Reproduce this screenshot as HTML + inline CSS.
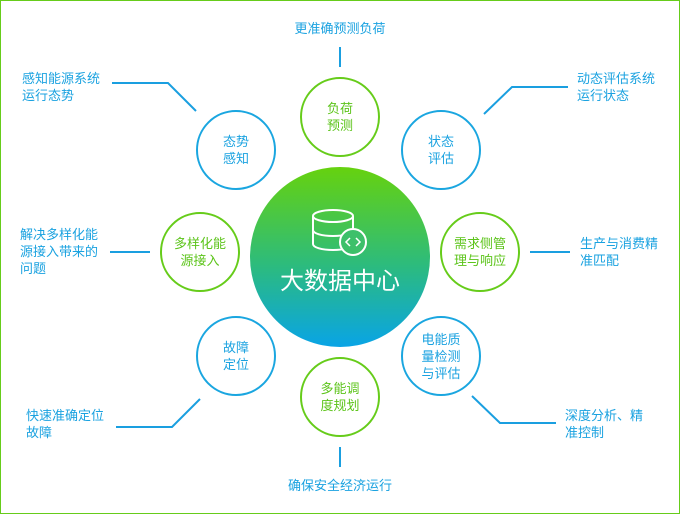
<!DOCTYPE html>
<html><head><meta charset="utf-8"><style>
body{margin:0;background:#fff}
svg{display:block}
text{font-family:"Liberation Sans","Noto Sans CJK SC",sans-serif;font-size:13px}
.b{fill:#1aa2e0}.g{fill:#5cc41a}
</style></head><body>
<svg width="680" height="514" viewBox="0 0 680 514">
<defs><linearGradient id="gr" x1="0" y1="0" x2="0" y2="1">
<stop offset="0" stop-color="#66d20e"/><stop offset="0.55" stop-color="#2cbb7e"/><stop offset="1" stop-color="#09a4e6"/></linearGradient></defs>
<rect x="0.5" y="0.5" width="679" height="513" fill="none" stroke="#66cc1a"/>
<g fill="none" stroke="#1a9fe0" stroke-width="2">
<path d="M340 47V67"/><path d="M340 447V467"/>
<path d="M112 83H168L196 111"/><path d="M484 114L512 87H568"/>
<path d="M530 252H570"/><path d="M110 252H150"/>
<path d="M116 427H172L200 399"/><path d="M472 396L500 423H556"/>
</g>
<circle cx="340" cy="257" r="90" fill="url(#gr)"/>
<g fill="none" stroke="#fff" stroke-width="2">
<ellipse cx="333" cy="216" rx="20" ry="6"/>
<path d="M313 216V244c0 3.5 9 6 20 6s20-2.5 20-6V216"/>
<path d="M313 230c0 3.5 9 6 20 6s20-2.5 20-6"/>
<circle cx="353" cy="242" r="13" fill="#3dc06a"/>
<path d="M350 238l-4 4 4 4M356 238l4 4-4 4" stroke-width="1.5"/>
</g>
<text x="340" y="289" fill="#fff" text-anchor="middle" style="font-size:24px">大数据中心</text>
<g fill="#fff" stroke-width="2">
<circle cx="340" cy="117" r="39" stroke="#66cc1a"/>
<circle cx="441" cy="150" r="39" stroke="#1aa6e0"/>
<circle cx="480" cy="252" r="39" stroke="#66cc1a"/>
<circle cx="441" cy="356" r="39" stroke="#1aa6e0"/>
<circle cx="340" cy="397" r="39" stroke="#66cc1a"/>
<circle cx="236" cy="356" r="39" stroke="#1aa6e0"/>
<circle cx="200" cy="252" r="39" stroke="#66cc1a"/>
<circle cx="236" cy="150" r="39" stroke="#1aa6e0"/>
</g>
<g text-anchor="middle">
<text class="g" x="340" y="113">负荷</text><text class="g" x="340" y="130">预测</text>
<text class="b" x="441" y="146">状态</text><text class="b" x="441" y="163">评估</text>
<text class="g" x="480" y="248">需求侧管</text><text class="g" x="480" y="265">理与响应</text>
<text class="b" x="441" y="344">电能质</text><text class="b" x="441" y="361">量检测</text><text class="b" x="441" y="378">与评估</text>
<text class="g" x="340" y="393">多能调</text><text class="g" x="340" y="410">度规划</text>
<text class="b" x="236" y="352">故障</text><text class="b" x="236" y="369">定位</text>
<text class="g" x="200" y="248">多样化能</text><text class="g" x="200" y="265">源接入</text>
<text class="b" x="236" y="146">态势</text><text class="b" x="236" y="163">感知</text>
<text class="b" x="340" y="33">更准确预测负荷</text>
<text class="b" x="340" y="490">确保安全经济运行</text>
</g>
<g>
<text class="b" x="22" y="83">感知能源系统</text><text class="b" x="22" y="100">运行态势</text>
<text class="b" x="577" y="83">动态评估系统</text><text class="b" x="577" y="100">运行状态</text>
<text class="b" x="20" y="239">解决多样化能</text><text class="b" x="20" y="256">源接入带来的</text><text class="b" x="20" y="273">问题</text>
<text class="b" x="580" y="248">生产与消费精</text><text class="b" x="580" y="265">准匹配</text>
<text class="b" x="26" y="420">快速准确定位</text><text class="b" x="26" y="437">故障</text>
<text class="b" x="565" y="420">深度分析、精</text><text class="b" x="565" y="437">准控制</text>
</g>
</svg>
</body></html>
